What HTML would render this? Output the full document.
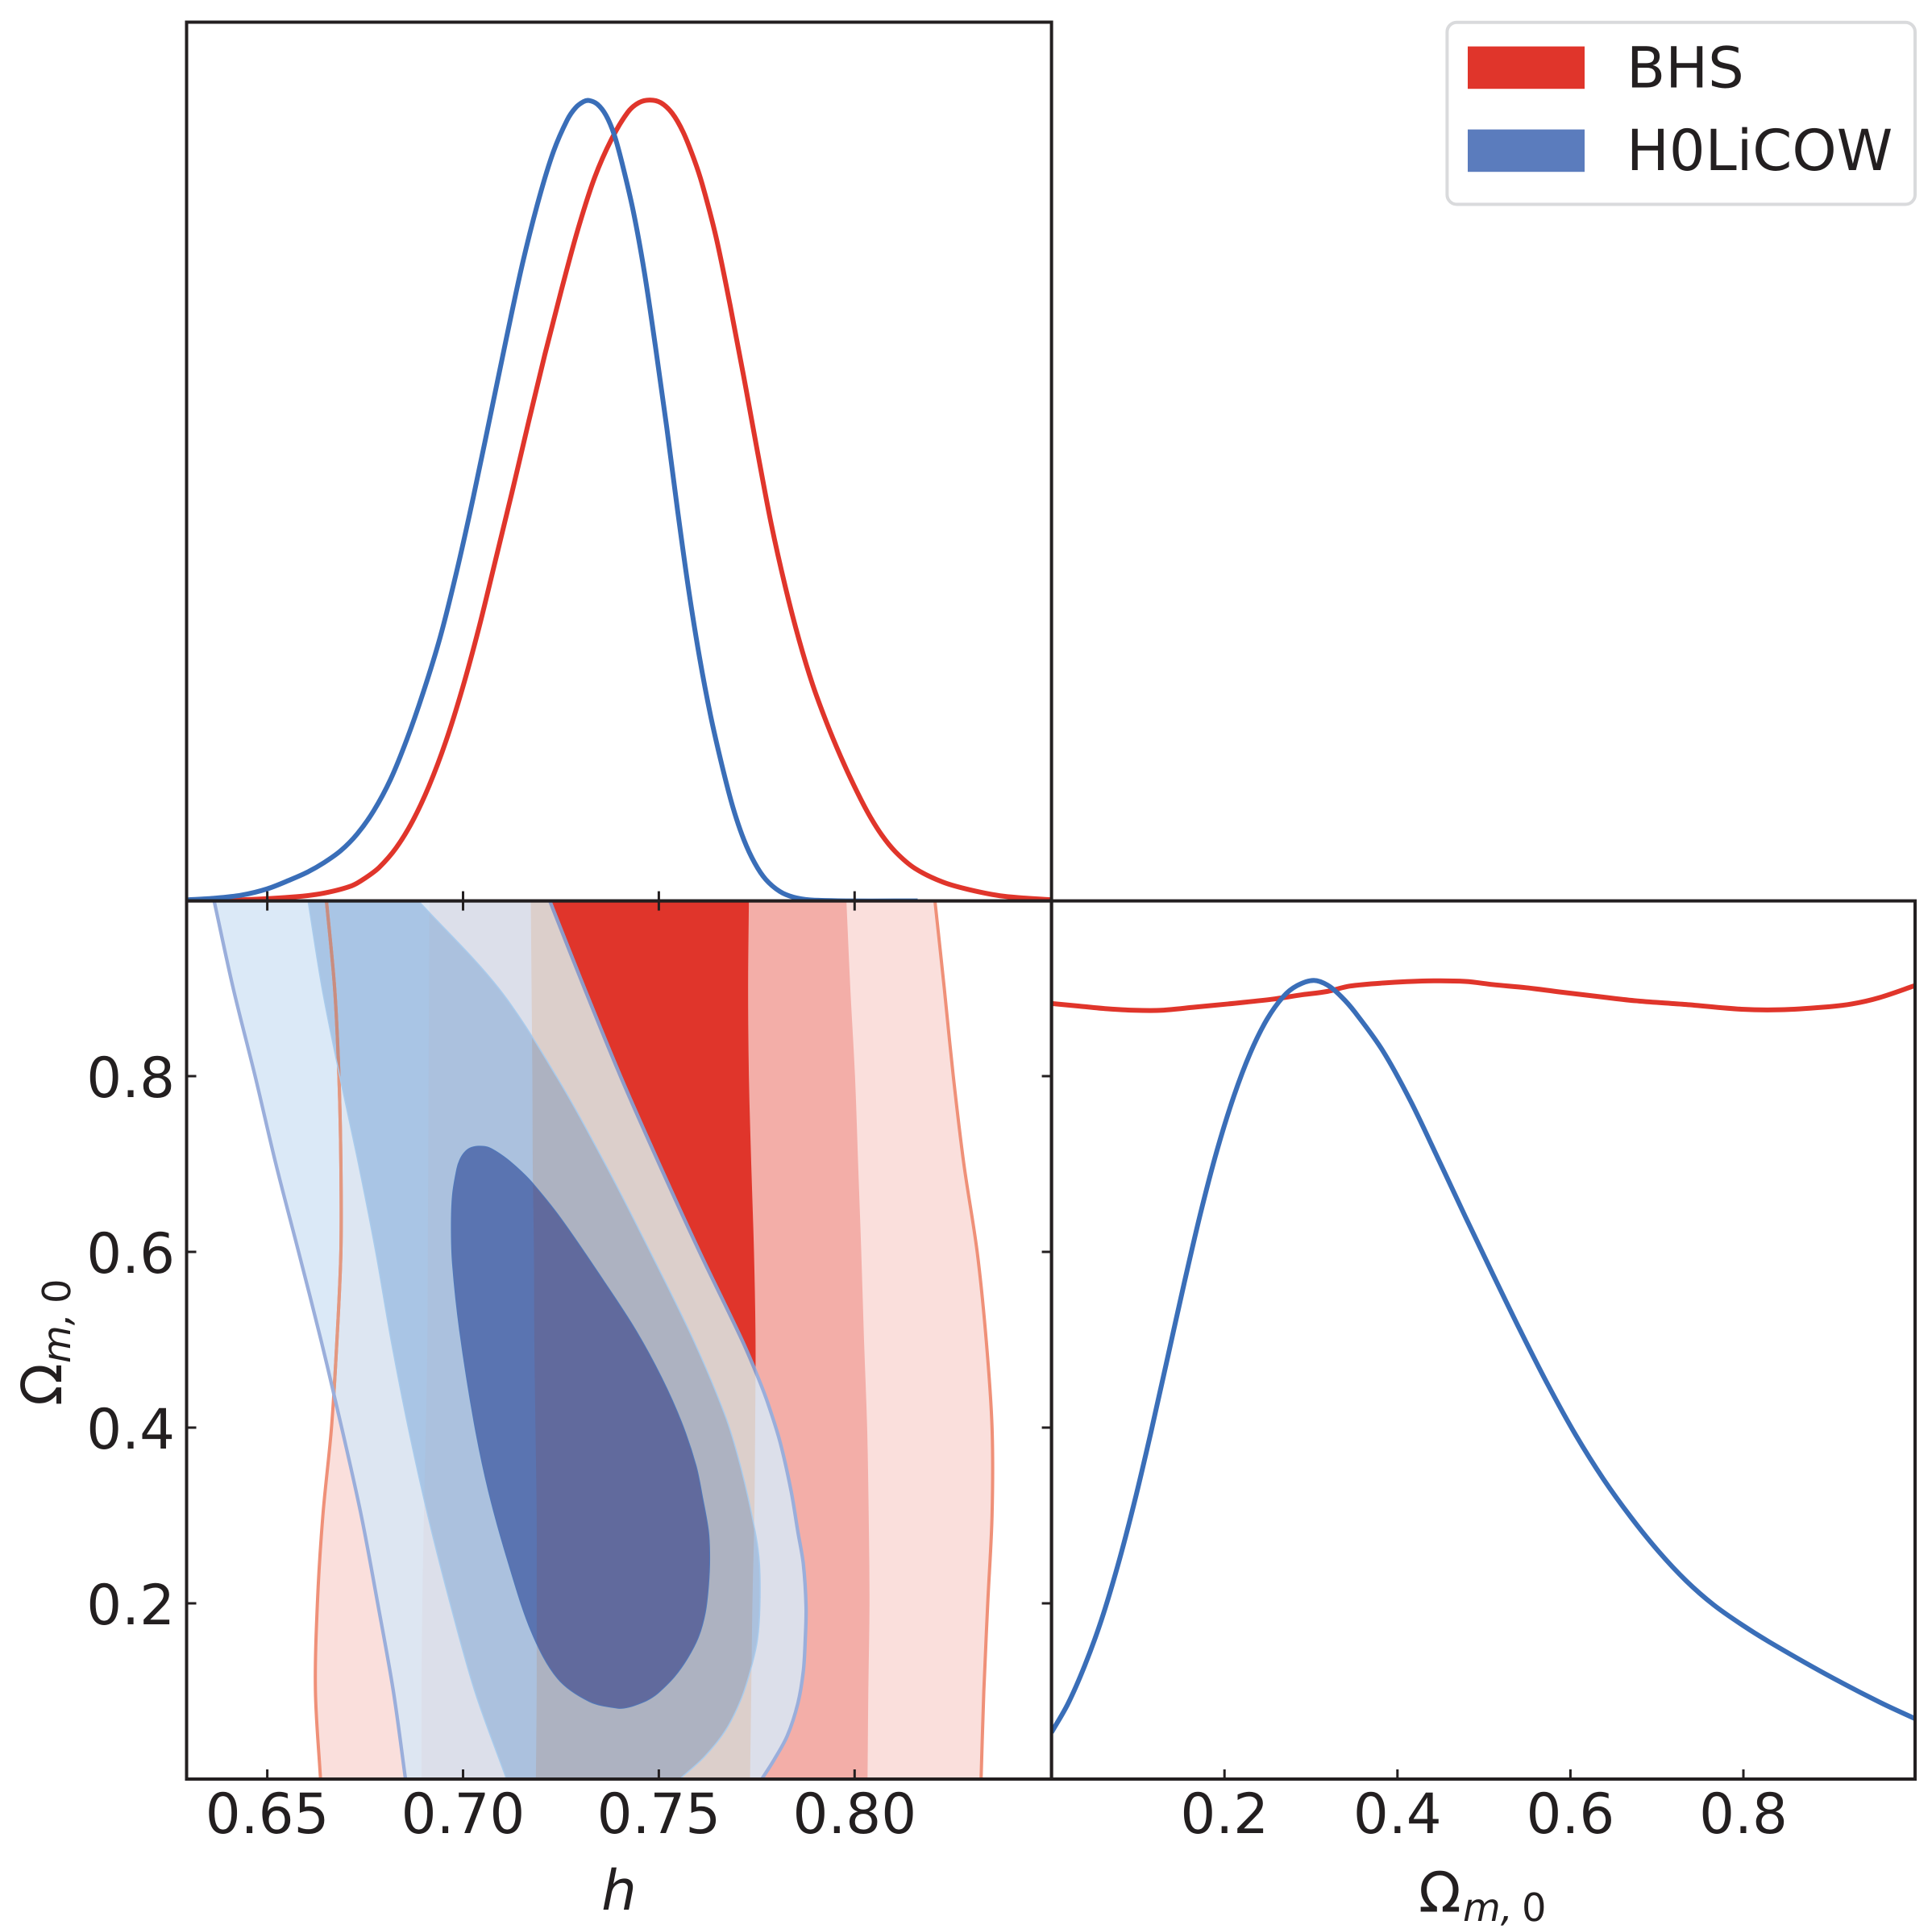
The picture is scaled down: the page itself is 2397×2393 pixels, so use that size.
<!DOCTYPE html>
<html lang="en">
<head>
<meta charset="utf-8">
<title>BHS vs H0LiCOW posterior corner plot</title>
<style>
html,body{margin:0;padding:0;background:#fff;}
svg{display:block;}
text{font-family:"DejaVu Sans","Liberation Sans",sans-serif;fill:#231f20;text-rendering:geometricPrecision;}
</style>
</head>
<body>
<svg id="chart" xmlns="http://www.w3.org/2000/svg" width="2397" height="2393" viewBox="0 0 2397 2393">
  <rect x="0" y="0" width="2397" height="2393" fill="#ffffff"/>
  <defs id="defs"></defs>
  <g id="contours"></g>
  <g id="curves"></g>
  <g id="axes"></g>

  <text x="768" y="2369" font-size="69" font-style="italic" text-anchor="middle">h</text>

  <g>
    <text x="1760" y="2371.7" font-size="69">Ω</text>
    <text x="1815" y="2383" font-size="48" font-style="italic">m,</text>
    <text x="1888" y="2383" font-size="48">0</text>
  </g>

  <g transform="translate(76,1744) rotate(-90)">
    <text x="0" y="0" font-size="69">Ω</text>
    <text x="53" y="11" font-size="48" font-style="italic">m,</text>
    <text x="127" y="11" font-size="48">0</text>
  </g>

  <g>
    <rect x="1795.4" y="27.7" width="580.6" height="225.8" rx="12" ry="12" fill="#ffffff" stroke="#d9dadc" stroke-width="4"/>
    <rect x="1821" y="57.6" width="145" height="52.6" fill="#e0352b"/>
    <text x="2018" y="108.4" font-size="70.3">BHS</text>
    <rect x="1821" y="160.6" width="145" height="52.6" fill="#5b7cbd"/>
    <text x="2018" y="211" font-size="70.3">H0LiCOW</text>
  </g>
</svg>

<script>
// ---- marginal of h (top panel) ----
const blueH = [.6293,.6363,.6434,.65,.6561,.6603,.6645,.6688,.673,.6772,.6815,.6857,.6899,.6942,.6984,.7026,.7068,.7111,.7153,.7195,.7231,.7266,.7287,.7308,.7322,.7343,.7365,.7386,.7407,.7435,.7463,.7491,.752,.7548,.7576,.7604,.7632,.7661,.7689,.7717,.7745,.7773,.7809,.7844,.7886,.7985,.8161];
const blueP = [.0013,.0033,.0072,.0151,.0269,.0361,.0479,.063,.084,.1129,.1523,.2029,.262,.3309,.413,.5049,.6034,.7052,.8004,.8812,.9383,.9777,.9928,1.0007,1.002,.9974,.9836,.9593,.9219,.8628,.7873,.6953,.5936,.4885,.39,.3047,.2324,.1701,.1175,.0768,.0473,.0269,.0118,.0046,.0013,0,0];
const redH = [.6293,.6434,.6575,.6645,.6716,.6751,.6786,.6829,.6871,.6913,.6956,.6998,.704,.7082,.7125,.7167,.7209,.7252,.7294,.7336,.7379,.7421,.7449,.7477,.7505,.7534,.7562,.759,.7611,.7646,.7682,.7717,.7752,.7787,.7823,.7858,.7893,.7929,.7964,.7999,.8034,.8069,.8105,.8154,.8225,.8295,.838,.8504];
const redP = [0,.0013,.0053,.0098,.019,.0289,.042,.0663,.0998,.1438,.1996,.2653,.3408,.4248,.5115,.5988,.6842,.7663,.8418,.9055,.9534,.9875,.9993,1.0026,.9993,.9862,.9626,.9284,.8969,.8313,.7459,.6559,.5621,.4721,.3933,.327,.2705,.2226,.1812,.1438,.1103,.0827,.0611,.0407,.0236,.0138,.0059,.0013];

// ---- marginal of Omega_m,0 (right panel) ----
const blueOm = [0,.0191,.0383,.0574,.0766,.0957,.1149,.134,.1532,.1723,.1914,.2106,.2297,.2489,.268,.284,.3031,.3191,.335,.351,.3829,.4148,.4467,.4786,.5105,.5424,.5743,.6062,.6382,.6701,.702,.7339,.7658,.7977,.8296,.8934,.9572,1];
const blueOmP = [.0584,.0945,.1418,.1982,.2672,.346,.4339,.5265,.6198,.7084,.7872,.8542,.9087,.9507,.9796,.9934,.9999,.994,.9796,.9599,.912,.8496,.7774,.7038,.6316,.5607,.493,.4306,.3755,.3276,.2849,.2481,.2179,.1936,.1719,.1325,.0964,.0748];
const redOm = [0,.0319,.0638,.0957,.1276,.1659,.2042,.2553,.2872,.3191,.3446,.3829,.434,.4786,.5105,.5488,.5871,.6382,.6764,.7339,.7977,.8424,.8934,.9253,.9572,1];
const redOmP = [.971,.9677,.9644,.9625,.9625,.9664,.9704,.9763,.9815,.9861,.9927,.9966,.9992,.9986,.9946,.9907,.9855,.9789,.9743,.9697,.9638,.9631,.9664,.9704,.9783,.994];

// ---- joint contours: BHS bands, h read at each Omega of the shared grid ----
const contourOm = [0,.1,.2,.3,.4,.5,.6,.7,.8,.9,1];
const red99Left = [.6636,.6623,.6628,.6642,.6664,.6678,.6688,.6688,.6683,.6672,.6651];
const red99Right = [.8323,.833,.834,.8351,.8351,.8336,.8313,.8279,.8252,.8229,.8205];
const red95Left = [.6894,.6894,.6896,.69,.6905,.6909,.691,.6911,.6912,.6913,.6914];
const red95Right = [.8033,.8035,.8038,.8036,.8032,.8024,.8017,.8009,.8001,.7989,.7979];
const red68Left = [.7186,.7188,.7188,.7188,.7185,.7182,.7181,.7178,.7177,.7175,.7173];
const red68Right = [.7733,.7736,.7739,.7744,.7746,.7747,.7743,.7736,.773,.7728,.773];

// ---- joint contours: H0LiCOW ----
const blue99Left = [.6853,.6822,.6782,.674,.669,.6637,.658,.6522,.6469,.6413,.6364];
const blue99RightOm = [0,.0217,.0492,.086,.1227,.1593,.196,.245,.2817,.3275,.383,.4258,.4553,.5,.6,.7,.8,.9,1];
const blue99Right = [.7763,.7794,.7828,.7855,.7869,.7874,.7876,.7869,.7855,.7838,.781,.778,.7755,.7712,.7604,.7501,.7402,.731,.7221];
const blue95Left = [.7111,.703,.6967,.691,.686,.6816,.6777,.6733,.6685,.664,.6604];
const blue95RightOm = [0,.0248,.0553,.092,.1287,.1593,.196,.245,.2817,.3537,.4128,.5,.6,.7,.8,.9,1];
const blue95Right = [.7553,.7615,.767,.7711,.7737,.7752,.7758,.7757,.7746,.771,.767,.7588,.7478,.7363,.7238,.7091,.6885];
const blue68H = [.7039,.7065,.7102,.7138,.7175,.7249,.7359,.7441,.7507,.7558,.7595,.7612,.7627,.763,.7627,.7619,.7602,.7574,.754,.7499,.7478,.7457,.7423,.7396,.7322,.7241,.7175,.7116,.7065,.7028,.6991,.6973,.697,.6973,.6984,.6991,.7002,.7017];
const blue68Om = [.7203,.7189,.7091,.696,.6796,.6386,.5672,.511,.457,.4062,.357,.32,.2817,.2511,.2205,.1899,.1624,.1379,.1165,.0982,.0915,.0869,.0817,.0805,.0883,.1146,.167,.2456,.3275,.4062,.511,.5862,.6288,.6649,.6944,.7042,.7124,.718];

// ---- ticks ----
const hTicks = [.65,.7,.75,.8];
const hTickLabels = ['0.65','0.70','0.75','0.80'];
const omTicks = [.2,.4,.6,.8];
const omTickLabels = ['0.2','0.4','0.6','0.8'];

// ---- axis functions ----
const L = 231.5, M = 1304.6, R = 2376, T = 27.5, C = 1117.6, B = 2207;
function xH(h){ return 331.6 + (h - 0.65) * 4858; }
function xOm(o){ return M + o * 1073; }
function yOm(o){ return B - o * 1090; }
function yTop(p){ return C - p * 990.9; }
function yRight(p){ return B - p * 990.9; }

const NS = 'http://www.w3.org/2000/svg';
function make(parent, tag, attrs){
  const el = document.createElementNS(NS, tag);
  for (const k in attrs) el.setAttribute(k, attrs[k]);
  parent.appendChild(el);
  return el;
}
function fx(v){ return v.toFixed(2); }
function dist(a, b){ return Math.max(Math.hypot(a[0] - b[0], a[1] - b[1]), 1e-6); }
// tangent at p1 scaled by chord length, so uneven point spacing causes no overshoot
function tangent(p0, p1, p2){
  const s = dist(p0, p1) + dist(p1, p2);
  return [(p2[0] - p0[0]) / s, (p2[1] - p0[1]) / s];
}
function segment(p1, p2, m1, m2){
  const l = dist(p1, p2) / 3;
  return 'C' + fx(p1[0] + m1[0] * l) + ' ' + fx(p1[1] + m1[1] * l) + ' ' +
         fx(p2[0] - m2[0] * l) + ' ' + fx(p2[1] - m2[1] * l) + ' ' + fx(p2[0]) + ' ' + fx(p2[1]);
}
function spline(pts){
  const n = pts.length;
  const ms = pts.map(function(p, i){ return tangent(pts[Math.max(i - 1, 0)], p, pts[Math.min(i + 1, n - 1)]); });
  let d = 'M' + fx(pts[0][0]) + ' ' + fx(pts[0][1]);
  for (let i = 0; i < n - 1; i++) d += segment(pts[i], pts[i + 1], ms[i], ms[i + 1]);
  return d;
}
function closedSpline(pts){
  const n = pts.length;
  const ms = pts.map(function(p, i){ return tangent(pts[(i - 1 + n) % n], p, pts[(i + 1) % n]); });
  let d = 'M' + fx(pts[0][0]) + ' ' + fx(pts[0][1]);
  for (let i = 0; i < n; i++) d += segment(pts[i], pts[(i + 1) % n], ms[i], ms[(i + 1) % n]);
  return d + 'Z';
}
function side(hs, oms){ return hs.map(function(h, i){ return [xH(h), yOm(oms[i])]; }); }
function band(leftPts, rightPts){
  return spline(leftPts) + 'L' + spline(rightPts.slice().reverse()).slice(1) + 'Z';
}

// ---- contour geometry from the data ----
const r99L = side(red99Left, contourOm), r99R = side(red99Right, contourOm);
const r95L = side(red95Left, contourOm), r95R = side(red95Right, contourOm);
const r68L = side(red68Left, contourOm), r68R = side(red68Right, contourOm);
const b99L = side(blue99Left, contourOm), b99R = side(blue99Right, blue99RightOm);
const b95L = side(blue95Left, contourOm), b95R = side(blue95Right, blue95RightOm);
const b68Pts = side(blue68H, blue68Om);

const pathR99 = band(r99L, r99R), pathR95 = band(r95L, r95R), pathR68 = band(r68L, r68R);
const pathB99 = band(b99L, b99R), pathB95 = band(b95L, b95R), pathB68 = closedSpline(b68Pts);

const defs = document.getElementById('defs');
function addClip(id, d){
  const c = make(defs, 'clipPath', {id: id});
  make(c, 'path', {d: d});
}
addClip('clip-red99', pathR99);
addClip('clip-red95', pathR95);
addClip('clip-red68', pathR68);
addClip('clip-blue99', pathB99);
addClip('clip-blue95', pathB95);
const panelClip = make(defs, 'clipPath', {id: 'clip-panel'});
make(panelClip, 'rect', {x: L, y: C, width: M - L, height: B - C});
const topClip = make(defs, 'clipPath', {id: 'clip-top'});
make(topClip, 'rect', {x: L, y: T, width: M - L, height: C - T});
const rightClip = make(defs, 'clipPath', {id: 'clip-right'});
make(rightClip, 'rect', {x: M, y: C, width: R - M, height: B - C});

// ---- joint panel ----
const contours = document.getElementById('contours');
contours.setAttribute('clip-path', 'url(#clip-panel)');

const redBands = [
  {name: 'bhs-contour-99', d: pathR99, fill: '#fadfdc'},
  {name: 'bhs-contour-95', d: pathR95, fill: '#f3aea8'},
  {name: 'bhs-contour-68', d: pathR68, fill: '#e0352b'}
];
redBands.forEach(function(b){
  const el = make(contours, 'path', {d: b.d, fill: b.fill});
  
  
});

const blueLayers = [
  {name: 'h0licow-contour-99', d: pathB99, colors: ['#dbe9f7', '#dde6f2', '#dcdfea', '#dccfcb']},
  {name: 'h0licow-contour-95', d: pathB95, colors: ['#a9c5e5', '#a9c5e5', '#abc1de', '#adb2c1']},
  {name: 'h0licow-contour-68', d: pathB68, colors: ['#5a74b1', '#5a74b1', '#5a74b1', '#616a9d']}
];
const redClips = [null, 'url(#clip-red99)', 'url(#clip-red95)', 'url(#clip-red68)'];
blueLayers.forEach(function(b){
  b.colors.forEach(function(col, i){
    const el = make(contours, 'path', {d: b.d, fill: col});
    if (redClips[i]) el.setAttribute('clip-path', redClips[i]);
    
    
  });
});

// BHS outermost outline (muted where the blue regions cover it)
const redOutline = spline(r99L) + spline(r99R);
const outlineLayers = [
  {stroke: '#ef9078', clip: null},
  {stroke: '#e39880', clip: 'url(#clip-blue99)'},
  {stroke: '#c88d80', clip: 'url(#clip-blue95)'}
];
outlineLayers.forEach(function(o){
  const el = make(contours, 'path', {d: redOutline, fill: 'none', stroke: o.stroke, 'stroke-width': 4});
  if (o.clip) el.setAttribute('clip-path', o.clip);
  
  
});

// H0LiCOW outlines
const blue95Outline = make(contours, 'path', {d: spline(b95L) + spline(b95R), fill: 'none', stroke: '#a9cbec', 'stroke-width': 1.5});


const blue68Outline = make(contours, 'path', {d: pathB68, fill: 'none', stroke: '#4f78bb', 'stroke-width': 1});


const blue99Outline = make(contours, 'path', {d: spline(b99L) + spline(b99R), fill: 'none', stroke: '#9aaedb', 'stroke-width': 4.3});


const blue99OutlineOnRed = make(contours, 'path', {d: spline(b99L) + spline(b99R), fill: 'none', stroke: '#8d9bc8', 'stroke-width': 4.3, 'clip-path': 'url(#clip-red68)'});



// ---- marginals ----
const curves = document.getElementById('curves');
const topGroup = make(curves, 'g', {'clip-path': 'url(#clip-top)'});


const rightGroup = make(curves, 'g', {'clip-path': 'url(#clip-right)'});



const lineW = 6;
const hRed = make(topGroup, 'path', {d: spline(redH.map(function(h, i){ return [xH(h), yTop(redP[i])]; })), fill: 'none', stroke: '#e0352b', 'stroke-width': lineW});


const hBlue = make(topGroup, 'path', {d: spline(blueH.map(function(h, i){ return [xH(h), yTop(blueP[i])]; })), fill: 'none', stroke: '#3a6eb8', 'stroke-width': lineW});


const omRed = make(rightGroup, 'path', {d: spline(redOm.map(function(o, i){ return [xOm(o), yRight(redOmP[i])]; })), fill: 'none', stroke: '#e0352b', 'stroke-width': lineW});


const omBlue = make(rightGroup, 'path', {d: spline(blueOm.map(function(o, i){ return [xOm(o), yRight(blueOmP[i])]; })), fill: 'none', stroke: '#3a6eb8', 'stroke-width': lineW});



// ---- axes ----
const axes = document.getElementById('axes');
const INK = '#231f20', TICK = 12, TW = 3;
function tickLine(x1, y1, x2, y2){
  const el = make(axes, 'line', {x1: x1, y1: y1, x2: x2, y2: y2, stroke: INK, 'stroke-width': TW});
  
  
}
hTicks.forEach(function(h, i){
  const x = xH(h);
  tickLine(x, C, x, C - TICK);
  tickLine(x, C, x, C + TICK);
  tickLine(x, B, x, B - TICK);
  const t = make(axes, 'text', {x: x, y: 2274, 'font-size': 69, 'text-anchor': 'middle'});
  t.textContent = hTickLabels[i];
  
  
});
omTicks.forEach(function(o, i){
  const x = xOm(o), y = yOm(o);
  tickLine(x, B, x, B - TICK);
  tickLine(L, y, L + TICK, y);
  tickLine(M, y, M - TICK, y);
  const tb = make(axes, 'text', {x: x, y: 2274, 'font-size': 69, 'text-anchor': 'middle'});
  tb.textContent = omTickLabels[i];
  
  
  const tl = make(axes, 'text', {x: 217, y: y + 26, 'font-size': 69, 'text-anchor': 'end'});
  tl.textContent = omTickLabels[i];
  
  
});
const frameTop = make(axes, 'rect', {x: L, y: T, width: M - L, height: C - T, fill: 'none', stroke: INK, 'stroke-width': 4});


const frameJoint = make(axes, 'rect', {x: L, y: C, width: M - L, height: B - C, fill: 'none', stroke: INK, 'stroke-width': 4});


const frameRight = make(axes, 'rect', {x: M, y: C, width: R - M, height: B - C, fill: 'none', stroke: INK, 'stroke-width': 4});


</script>
</body>
</html>
